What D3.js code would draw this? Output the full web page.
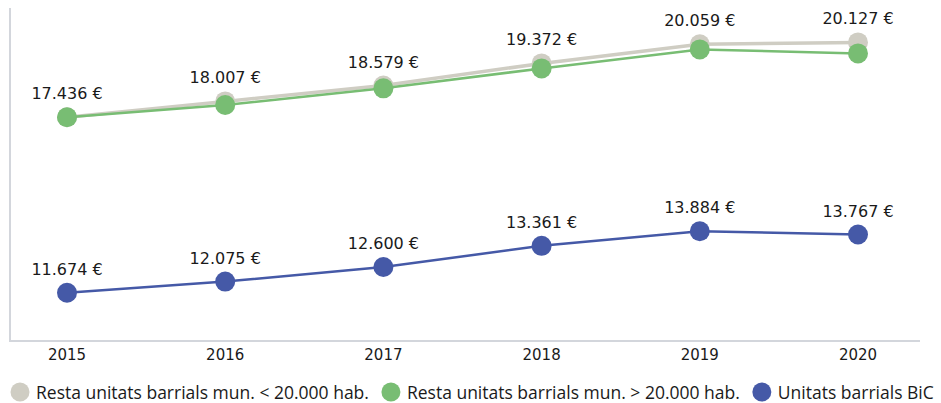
<!DOCTYPE html>
<html>
<head>
<meta charset="utf-8">
<script src="https://cdn.jsdelivr.net/npm/d3@7"></script>
<style>
  body { margin: 0; background: #fff; }
  text { font-family: "DejaVu Sans", sans-serif; fill: #1a1a1a; }
  .legend text { font-family: "Open Sans", sans-serif; }
</style>
</head>
<body>
<script>
const years = ['2015', '2016', '2017', '2018', '2019', '2020'];
const smallMun = [17436, 18007, 18579, 19372, 20059, 20127];
const largeMun = [17436, 17877, 18477, 19194, 19876, 19732];
const bic = [11674, 12075, 12600, 13361, 13884, 13767];
const seriesNames = [
    'Resta unitats barrials mun. < 20.000 hab.',
    'Resta unitats barrials mun. > 20.000 hab.',
    'Unitats barrials BiC'
];
const colors = ['#cfcdc3', '#78bd73', '#4559a7'];

const width = 941;
const height = 403;
const margin = { top: 8, right: 21, bottom: 62, left: 10 };

const svg = d3.select('body').append('svg')
    .attr('width', width)
    .attr('height', height);

const x = d3.scalePoint()
    .domain(years)
    .range([67, 858]);

// two value axes (hidden), the BiC line sits on the secondary one
const yLeft = d3.scaleLinear()
    .domain([9395, 21365])
    .range([height - margin.bottom, margin.top]);
const yRight = d3.scaleLinear()
    .domain([9940, 21910])
    .range([height - margin.bottom, margin.top]);

const fmt = v => d3.format(',')(v).replace(/,/g, '.') + ' €';

// axes
svg.append('line')
    .attr('x1', margin.left).attr('x2', margin.left)
    .attr('y1', margin.top).attr('y2', height - margin.bottom)
    .attr('stroke', '#d3d6dc').attr('stroke-width', 2);
svg.append('line')
    .attr('x1', margin.left - 1).attr('x2', width - margin.right)
    .attr('y1', height - margin.bottom).attr('y2', height - margin.bottom)
    .attr('stroke', '#d3d6dc').attr('stroke-width', 2);

svg.selectAll('.year').data(years).enter()
    .append('text')
    .attr('class', 'year')
    .attr('x', d => x(d))
    .attr('y', 360)
    .attr('text-anchor', 'middle')
    .attr('font-size', 15)
    .attr('font-weight', 500)
    .text(d => d);

const series = [
    { values: smallMun, y: yLeft, color: colors[0], width: 3.5, labels: true },
    { values: largeMun, y: yLeft, color: colors[1], width: 2.5, labels: false },
    { values: bic, y: yRight, color: colors[2], width: 2.5, labels: true }
];

function draw(s) {
    const pts = s.values.map((v, i) => ({ year: years[i], v: v }));
    const line = d3.line().x(d => x(d.year)).y(d => s.y(d.v));
    svg.append('path')
        .datum(pts)
        .attr('d', line)
        .attr('fill', 'none')
        .attr('stroke', s.color)
        .attr('stroke-width', s.width);
    svg.append('g').selectAll('circle').data(pts).enter()
        .append('circle')
        .attr('cx', d => x(d.year))
        .attr('cy', d => s.y(d.v))
        .attr('r', 10)
        .attr('fill', s.color);
}
series.forEach(draw);

series.filter(s => s.labels).forEach(s => {
    svg.append('g').selectAll('text').data(s.values).enter()
        .append('text')
        .attr('x', (d, i) => x(years[i]))
        .attr('y', d => s.y(d) - 18)
        .attr('text-anchor', 'middle')
        .attr('font-size', 16)
        .text(d => fmt(d));
});

// legend
const legend = svg.append('g').attr('class', 'legend').attr('transform', 'translate(0, 392)');
let lx = 20;
seriesNames.forEach((name, i) => {
    legend.append('circle')
        .attr('cx', lx).attr('cy', 0).attr('r', 9.5)
        .attr('fill', colors[i]);
    const t = legend.append('text')
        .attr('x', lx + 16)
        .attr('y', 6.5)
        .attr('font-size', 17.5)
        .text(name);
    lx += 16 + t.node().getComputedTextLength() + 22;
});
</script>
</body>
</html>
